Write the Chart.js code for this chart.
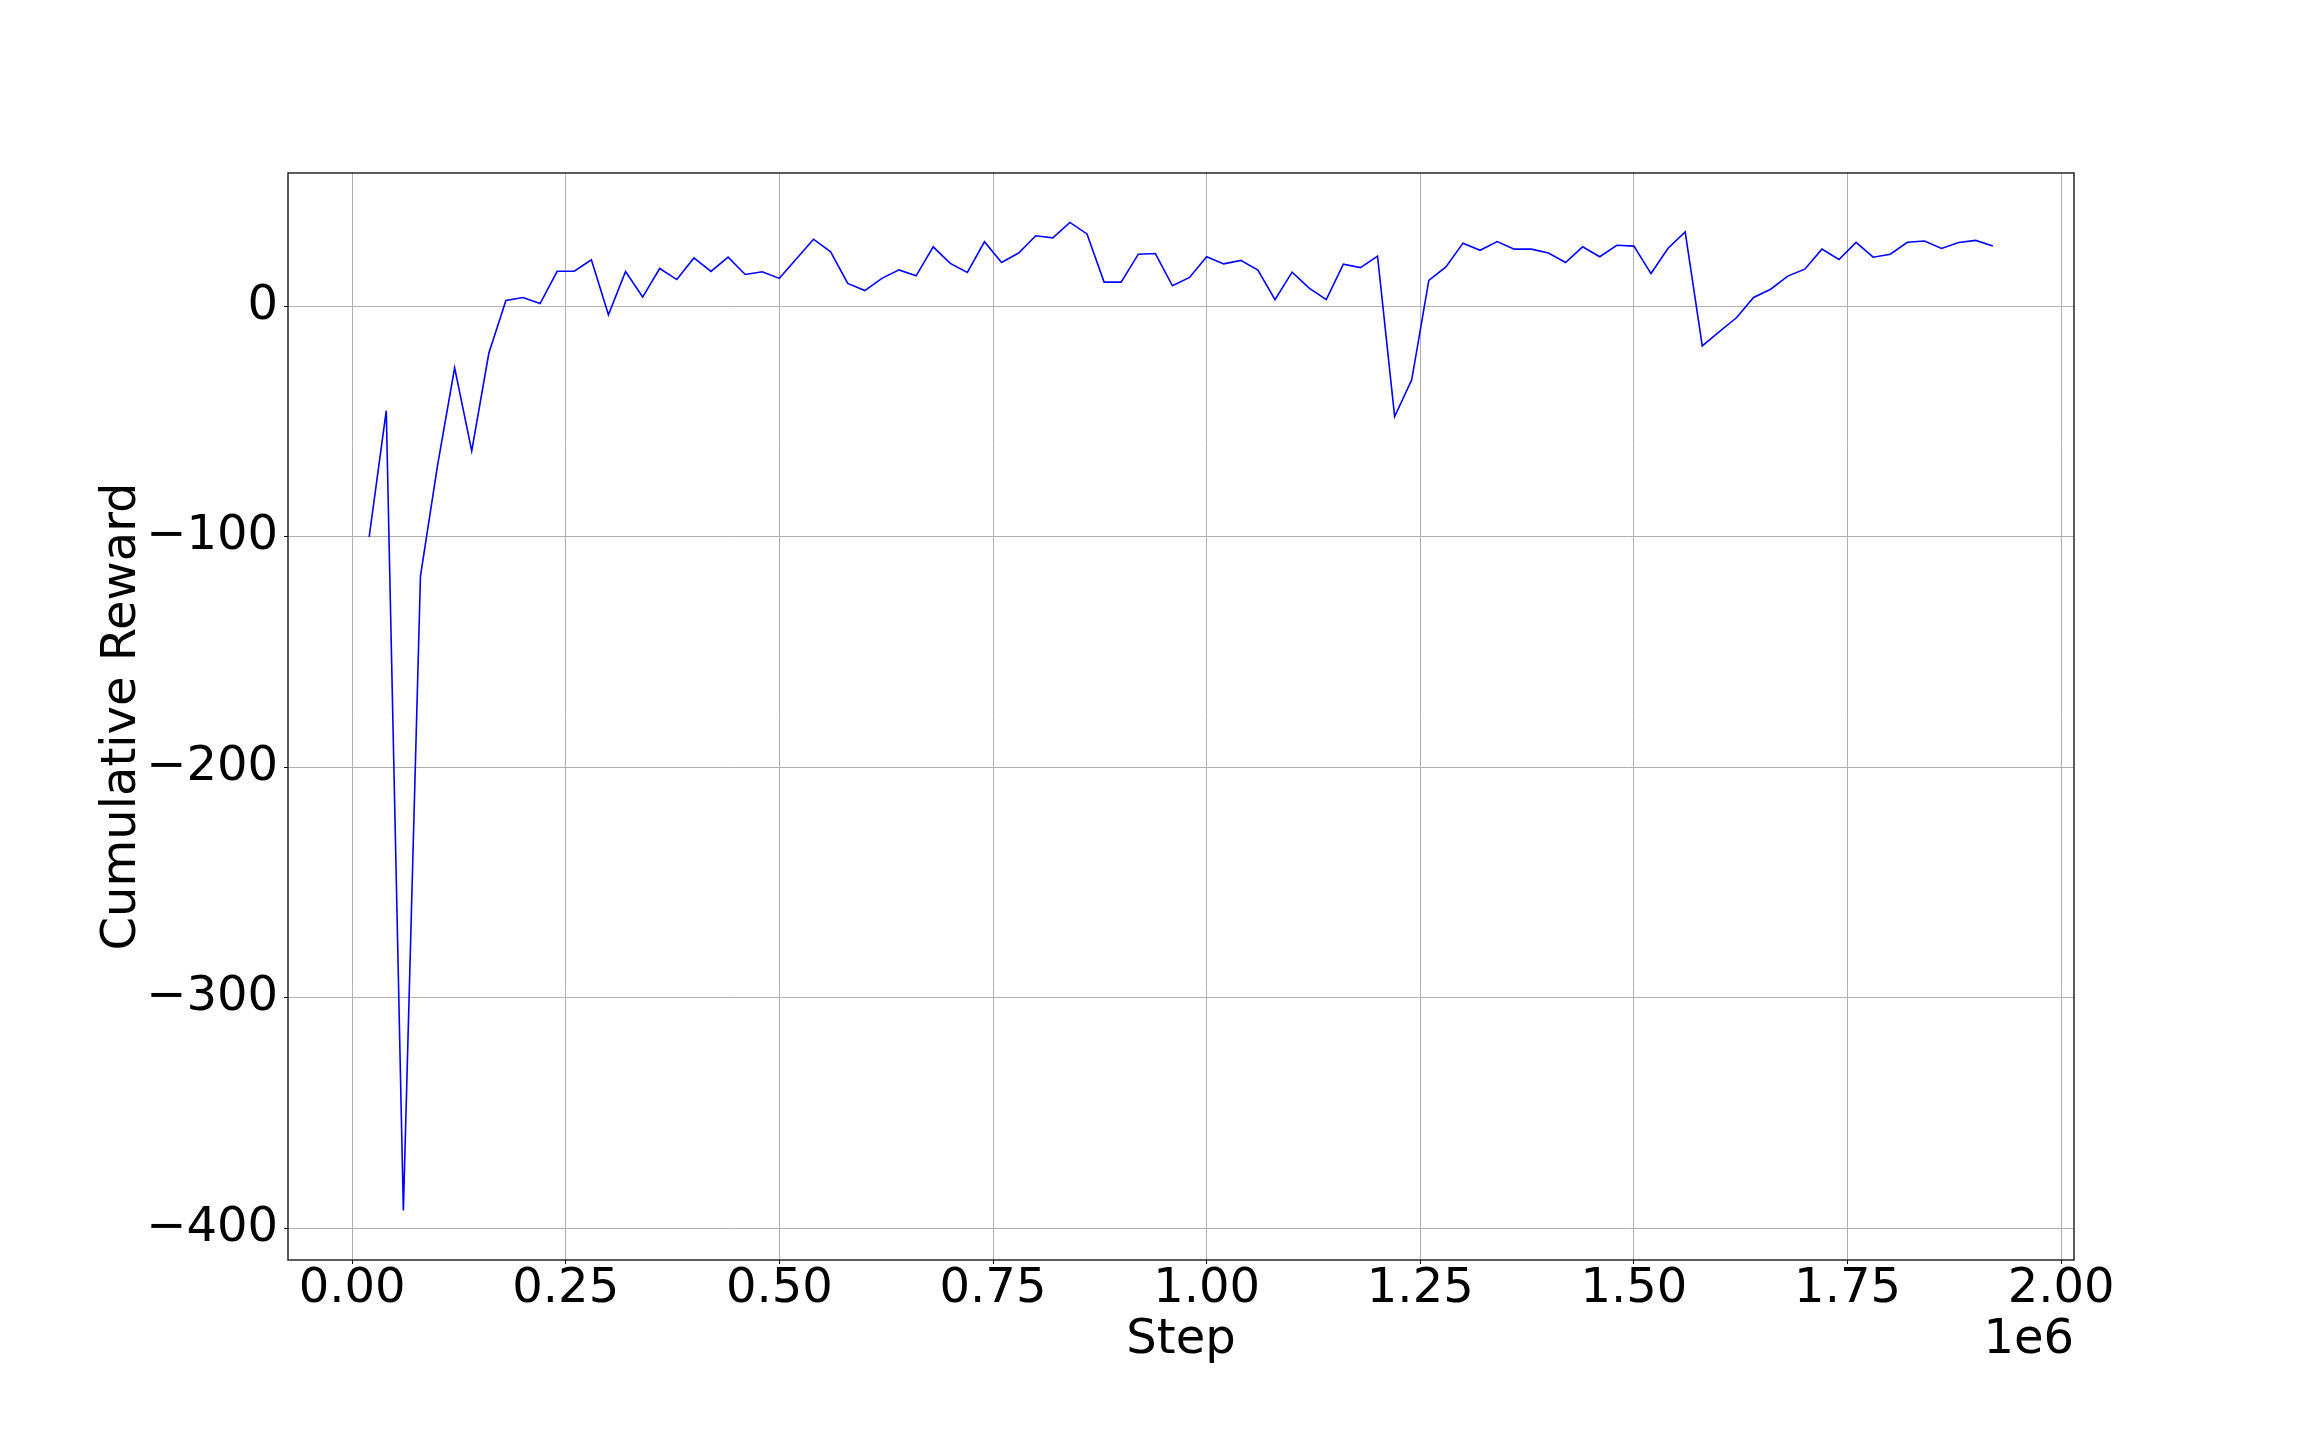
<!DOCTYPE html>
<html>
<head>
<meta charset="utf-8">
<title>Cumulative Reward</title>
<script src="https://cdn.jsdelivr.net/npm/chart.js@4.4.0/dist/chart.umd.min.js"></script>
<style>
  html, body { margin: 0; padding: 0; background: #ffffff; }
  #wrap { width: 2304px; height: 1440px; }
</style>
</head>
<body>
<div id="wrap"><canvas id="chart" width="2304" height="1440"></canvas></div>
<script>
// Data
const steps = [
  20000, 40000, 60000, 80000, 100000, 120000, 140000, 160000, 180000, 200000,
  220000, 240000, 260000, 280000, 300000, 320000, 340000, 360000, 380000, 400000,
  420000, 440000, 460000, 480000, 500000, 520000, 540000, 560000, 580000, 600000,
  620000, 640000, 660000, 680000, 700000, 720000, 740000, 760000, 780000, 800000,
  820000, 840000, 860000, 880000, 900000, 920000, 940000, 960000, 980000, 1000000,
  1020000, 1040000, 1060000, 1080000, 1100000, 1120000, 1140000, 1160000, 1180000, 1200000,
  1220000, 1240000, 1260000, 1280000, 1300000, 1320000, 1340000, 1360000, 1380000, 1400000,
  1420000, 1440000, 1460000, 1480000, 1500000, 1520000, 1540000, 1560000, 1580000, 1600000,
  1620000, 1640000, 1660000, 1680000, 1700000, 1720000, 1740000, 1760000, 1780000, 1800000,
  1820000, 1840000, 1860000, 1880000, 1900000, 1920000
];

const rewards = [
  -100, -45.2, -392.4, -117, -69, -26.6, -62.7, -20.3, 2.6, 3.9,
  1.3, 15.3, 15.3, 20.3, -3.6, 15.2, 4.1, 16.5, 11.7, 21.1,
  15.2, 21.4, 13.9, 15.1, 12.2, 20.7, 29.2, 23.7, 10.0, 6.9,
  12.2, 15.9, 13.3, 25.9, 18.7, 14.8, 28.1, 19.1, 23.2, 30.7,
  29.8, 36.5, 31.5, 10.6, 10.6, 22.7, 23.0, 9.0, 12.6, 21.6,
  18.5, 20.0, 15.8, 3.0, 14.9, 8.0, 3.0, 18.4, 16.9, 21.9,
  -47.8, -31.8, 11.3, 17.2, 27.5, 24.4, 28.2, 24.9, 24.9, 23.2,
  19.1, 25.9, 21.6, 26.6, 26.2, 14.3, 25.3, 32.4, -17.1, -10.9,
  -4.9, 3.9, 7.5, 13.2, 16.2, 24.9, 20.4, 27.8, 21.4, 22.7,
  27.9, 28.4, 25.2, 27.8, 28.7, 26.3
];

const xTicks = [0, 250000, 500000, 750000, 1000000, 1250000, 1500000, 1750000, 2000000];
const xTickLabels = ['0.00', '0.25', '0.50', '0.75', '1.00', '1.25', '1.50', '1.75', '2.00'];
const yTicks = [-400, -300, -200, -100, 0];
const yTickLabels = ['\u2212400', '\u2212300', '\u2212200', '\u2212100', '0'];
const xTitle = 'Step';
const yTitle = 'Cumulative Reward';
const offsetText = '1e6';

// matplotlib-like 5% margins
function paddedRange(values) {
  const lo = Math.min(...values);
  const hi = Math.max(...values);
  const m = (hi - lo) * 0.05;
  return [lo - m, hi + m];
}
const [xMin, xMax] = paddedRange(steps);
const [yMin, yMax] = paddedRange(rewards);

const FONT = "'DejaVu Sans', sans-serif";

// Frame around the plot + offset text
const framePlugin = {
  id: 'frame',
  afterDraw(chart) {
    const { ctx, chartArea } = chart;
    ctx.save();
    ctx.strokeStyle = '#262626';
    ctx.lineWidth = 1.5;
    ctx.strokeRect(chartArea.left, chartArea.top,
      chartArea.right - chartArea.left, chartArea.bottom - chartArea.top);
    ctx.fillStyle = '#000000';
    ctx.font = '48px ' + FONT;
    ctx.textAlign = 'right';
    ctx.textBaseline = 'alphabetic';
    ctx.fillText(offsetText, chartArea.right, 1353);
    ctx.restore();
  }
};

new Chart(document.getElementById('chart'), {
  type: 'line',
  data: {
    datasets: [{
      label: yTitle,
      data: steps.map((s, i) => ({ x: s, y: rewards[i] })),
      borderColor: '#0000ff',
      borderWidth: 1.6,
      pointRadius: 0,
      fill: false,
      tension: 0
    }]
  },
  options: {
    responsive: false,
    devicePixelRatio: 1,
    animation: false,
    layout: {
      padding: { top: 173, right: 230, bottom: 0, left: 0 }
    },
    plugins: {
      legend: { display: false },
      tooltip: { enabled: false }
    },
    scales: {
      x: {
        type: 'linear',
        min: xMin,
        max: xMax,
        afterFit: s => { s.height = 180; },
        afterBuildTicks: s => { s.ticks = xTicks.map(v => ({ value: v })); },
        grid: {
          color: '#b0b0b0',
          lineWidth: 1,
          tickColor: '#000000',
          tickLength: 4,
          tickWidth: 1
        },
        border: { display: false },
        ticks: {
          autoSkip: false,
          maxRotation: 0,
          padding: 2,
          color: '#000000',
          font: { family: FONT, size: 48, lineHeight: 1 },
          callback: v => xTickLabels[xTicks.indexOf(v)]
        },
        title: {
          display: true,
          text: xTitle,
          color: '#000000',
          font: { family: FONT, size: 48, lineHeight: 1.2 },
          padding: { top: 0, bottom: 71 }
        }
      },
      y: {
        type: 'linear',
        min: yMin,
        max: yMax,
        afterFit: s => { s.width = 288; },
        afterBuildTicks: s => { s.ticks = yTicks.map(v => ({ value: v })); },
        grid: {
          color: '#b0b0b0',
          lineWidth: 1,
          tickColor: '#000000',
          tickLength: 4,
          tickWidth: 1
        },
        border: { display: false },
        ticks: {
          autoSkip: false,
          padding: 6,
          color: '#000000',
          font: { family: FONT, size: 48, lineHeight: 1 },
          callback: v => yTickLabels[yTicks.indexOf(v)]
        },
        title: {
          display: true,
          text: yTitle,
          color: '#000000',
          font: { family: FONT, size: 48, lineHeight: 1.2 },
          padding: { top: 94, bottom: 0 }
        }
      }
    }
  },
  plugins: [framePlugin]
});
</script>
</body>
</html>
